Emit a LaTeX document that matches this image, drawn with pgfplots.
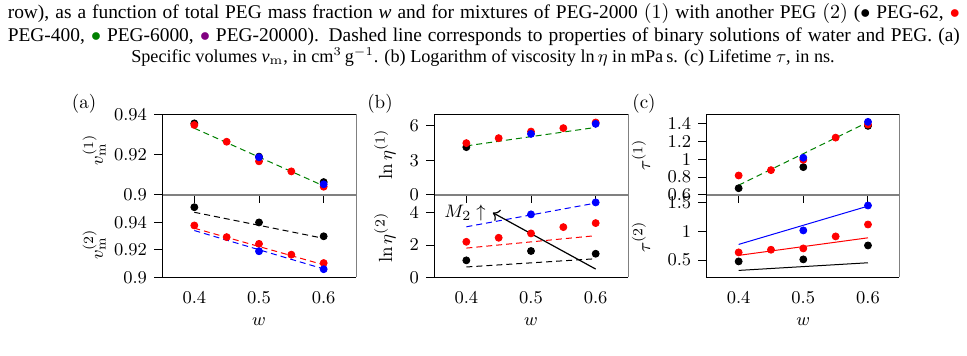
\documentclass[border=0pt]{standalone}
\usepackage{pgfplots}
\pgfplotsset{compat=1.18}
\usepackage{fontspec}
\newfontfamily\capfont{Liberation Serif}
\usetikzlibrary{arrows.meta}

\definecolor{pegred}{RGB}{255,0,0}
\definecolor{pegblue}{RGB}{0,0,255}
\definecolor{peggreen}{RGB}{0,128,0}
\definecolor{pegpurple}{RGB}{128,0,128}
\definecolor{framegray}{RGB}{128,128,128}

\pgfplotsset{
  panel/.style={
    scale only axis, width=97pt,
    xmin=0.35, xmax=0.65, xtick={0.4,0.5,0.6},
    axis line style={draw=none},
    tick align=outside, major tick length=4pt,
    ytick pos=left, xtick pos=bottom,
    tick style={black, line width=0.5pt},
    tick label style={font=\fontsize{9.5}{11}\selectfont},
    label style={font=\fontsize{9.5}{11}\selectfont},
    clip=false,
  },
  toppanel/.style={panel, height=40.35pt, anchor=south west, xticklabels={}},
  botpanel/.style={panel, height=41.15pt, anchor=north west,
    major x tick style={draw=none}, xlabel={$w$}},
  dot/.style={only marks, mark=*, mark size=1.75pt},
  fit/.style={dash pattern=on 3pt off 2pt, line width=0.5pt, no marks},
  sfit/.style={solid, line width=0.5pt, no marks},
}

% one frame per column: black left/top/bottom, grey right edge and divider
\newcommand\panelframe[2]{%
  \draw[framegray, line width=0.5pt] (#2,-57.15pt) -- (#2,-138.65pt);
  \draw[framegray, line width=1.4pt] (#1,-97.5pt) -- (#2,-97.5pt);
  \draw[black, line width=0.5pt] (#2,-57.15pt) -- (#1,-57.15pt) -- (#1,-138.65pt) -- (#2,-138.65pt);
}

\begin{document}
\begin{tikzpicture}
\useasboundingbox (0,0) rectangle (483.5pt,-178pt);

% caption lines
\node[anchor=base west, inner sep=0pt] at (3.7pt,-9.5pt) {\capfont\fontsize{9.7}{11}\selectfont
  \makebox[476pt][s]{row), as a function of total PEG mass fraction \textit{w} and for mixtures of PEG-2000 $(1)$ with another PEG $(2)$ ($\bullet$ PEG-62, \textcolor{pegred}{$\bullet$}}};
\node[anchor=base west, inner sep=0pt] at (3.7pt,-20.75pt) {\capfont\fontsize{9.7}{11}\selectfont
  \makebox[476pt][s]{PEG-400, \textcolor{peggreen}{$\bullet$} PEG-6000, \textcolor{pegpurple}{$\bullet$} PEG-20000). Dashed line corresponds to properties of binary solutions of water and PEG. (a)}};
\node[anchor=base, inner sep=0pt] at (241.5pt,-31.5pt) {\capfont\fontsize{9.1}{10}\selectfont
  Specific volumes \textit{v}$_\mathrm{m}$, in cm$^3$\,g$^{-1}$. (b) Logarithm of viscosity ln\,$\eta$ in mPa\,s. (c) Lifetime $\tau$, in ns.};

% panel letters
\node[font=\fontsize{9.5}{11}\selectfont] at (42pt,-52pt) {(a)};
\node[font=\fontsize{9.5}{11}\selectfont] at (190pt,-52pt) {(b)};
\node[font=\fontsize{9.5}{11}\selectfont] at (322pt,-52pt) {(c)};

% ---------------- (a) specific volume ----------------
\begin{axis}[toppanel, at={(81pt,-97.5pt)},
  ymin=0.9, ymax=0.94, ytick={0.9,0.92,0.94},
  ylabel={$v_{\mathrm{m}}^{(1)}$},
  ylabel style={at={(axis description cs:-0.35,0.56)}, anchor=center}]
\addplot[fit, peggreen] coordinates {(0.4,0.9331) (0.6,0.9045)};
\addplot[dot, black] coordinates {(0.4,0.9355) (0.5,0.9190) (0.6,0.9064)};
\addplot[dot, pegred] coordinates {(0.4,0.9347) (0.45,0.9264) (0.5,0.9167) (0.55,0.9117) (0.6,0.9041)};
\addplot[dot, pegblue] coordinates {(0.5,0.9187) (0.6,0.9053)};
\end{axis}
\begin{axis}[botpanel, at={(81pt,-97.5pt)},
  ymin=0.9, ymax=0.96, ytick={0.9,0.92,0.94},
  ylabel={$v_{\mathrm{m}}^{(2)}$},
  ylabel style={at={(axis description cs:-0.35,0.40)}, anchor=center}]
\addplot[fit, black] coordinates {(0.4,0.9474) (0.6,0.9284)};
\addplot[fit, pegred] coordinates {(0.4,0.9358) (0.6,0.9091)};
\addplot[fit, pegblue] coordinates {(0.4,0.9341) (0.6,0.9061)};
\addplot[dot, black] coordinates {(0.4,0.9511) (0.5,0.9400) (0.6,0.9299)};
\addplot[dot, pegred] coordinates {(0.4,0.9378) (0.45,0.9293) (0.5,0.9244) (0.55,0.9165) (0.6,0.9104)};
\addplot[dot, pegblue] coordinates {(0.5,0.9190) (0.6,0.9059)};
\end{axis}
\panelframe{81pt}{178pt}

% ---------------- (b) viscosity ----------------
\begin{axis}[toppanel, at={(217pt,-97.5pt)},
  ymin=0, ymax=7, ytick={0,3,6},
  ylabel={$\ln\eta^{(1)}$},
  ylabel style={at={(axis description cs:-0.253,0.5)}, anchor=center}]
\addplot[fit, peggreen] coordinates {(0.4,4.26) (0.6,5.86)};
\addplot[dot, black] coordinates {(0.4,4.15)};
\addplot[dot, pegred] coordinates {(0.4,4.50) (0.45,4.93) (0.5,5.50) (0.55,5.80) (0.6,6.29)};
\addplot[dot, pegblue] coordinates {(0.5,5.30) (0.6,6.17)};
\end{axis}
\begin{axis}[botpanel, at={(217pt,-97.5pt)},
  ymin=0, ymax=5.1, ytick={0,2,4},
  ylabel={$\ln\eta^{(2)}$},
  ylabel style={at={(axis description cs:-0.253,0.48)}, anchor=center}]
\addplot[fit, black] coordinates {(0.4,0.64) (0.6,1.15)};
\addplot[fit, pegred] coordinates {(0.4,1.81) (0.6,2.58)};
\addplot[fit, pegblue] coordinates {(0.4,3.13) (0.6,4.60)};
\addplot[dot, black] coordinates {(0.4,1.05) (0.5,1.63) (0.6,1.46)};
\addplot[dot, pegred] coordinates {(0.4,2.20) (0.45,2.45) (0.5,2.72) (0.55,3.11) (0.6,3.36)};
\addplot[dot, pegblue] coordinates {(0.5,3.90) (0.6,4.64)};
\draw[black, line width=0.6pt, -{To[length=3pt]}] (axis cs:0.6,0.51) -- (axis cs:0.441,4.0);
\node[font=\fontsize{9.5}{11}\selectfont, inner sep=0pt] at (axis cs:0.398,4.0) {$M_2\uparrow$};
\end{axis}
\panelframe{217pt}{314pt}

% ---------------- (c) lifetime ----------------
\begin{axis}[toppanel, at={(353.15pt,-97.5pt)},
  ymin=0.6, ymax=1.506, ytick={0.6,0.8,1,1.2,1.4},
  ylabel={$\tau^{(1)}$},
  ylabel style={at={(axis description cs:-0.337,0.5)}, anchor=center}]
\addplot[fit, peggreen] coordinates {(0.4,0.710) (0.6,1.418)};
\addplot[dot, black] coordinates {(0.4,0.676) (0.5,0.913) (0.6,1.376)};
\addplot[dot, pegred] coordinates {(0.4,0.819) (0.45,0.879) (0.5,0.995) (0.55,1.244) (0.6,1.391)};
\addplot[dot, pegblue] coordinates {(0.5,1.018) (0.6,1.421)};
\end{axis}
\begin{axis}[botpanel, at={(353.15pt,-97.5pt)},
  ymin=0.2, ymax=1.634, ytick={0.5,1,1.5},
  ylabel={$\tau^{(2)}$},
  ylabel style={at={(axis description cs:-0.337,0.49)}, anchor=center}]
\addplot[sfit, pegblue] coordinates {(0.4,0.773) (0.6,1.440)};
\addplot[sfit, pegred] coordinates {(0.4,0.582) (0.6,0.888)};
\addplot[sfit, black] coordinates {(0.4,0.320) (0.6,0.453)};
\addplot[dot, black] coordinates {(0.4,0.477) (0.5,0.512) (0.6,0.755)};
\addplot[dot, pegred] coordinates {(0.4,0.634) (0.45,0.680) (0.5,0.703) (0.55,0.912) (0.6,1.120)};
\addplot[dot, pegblue] coordinates {(0.5,1.017) (0.6,1.451)};
\end{axis}
\panelframe{353.15pt}{449.65pt}
\end{tikzpicture}
\end{document}
